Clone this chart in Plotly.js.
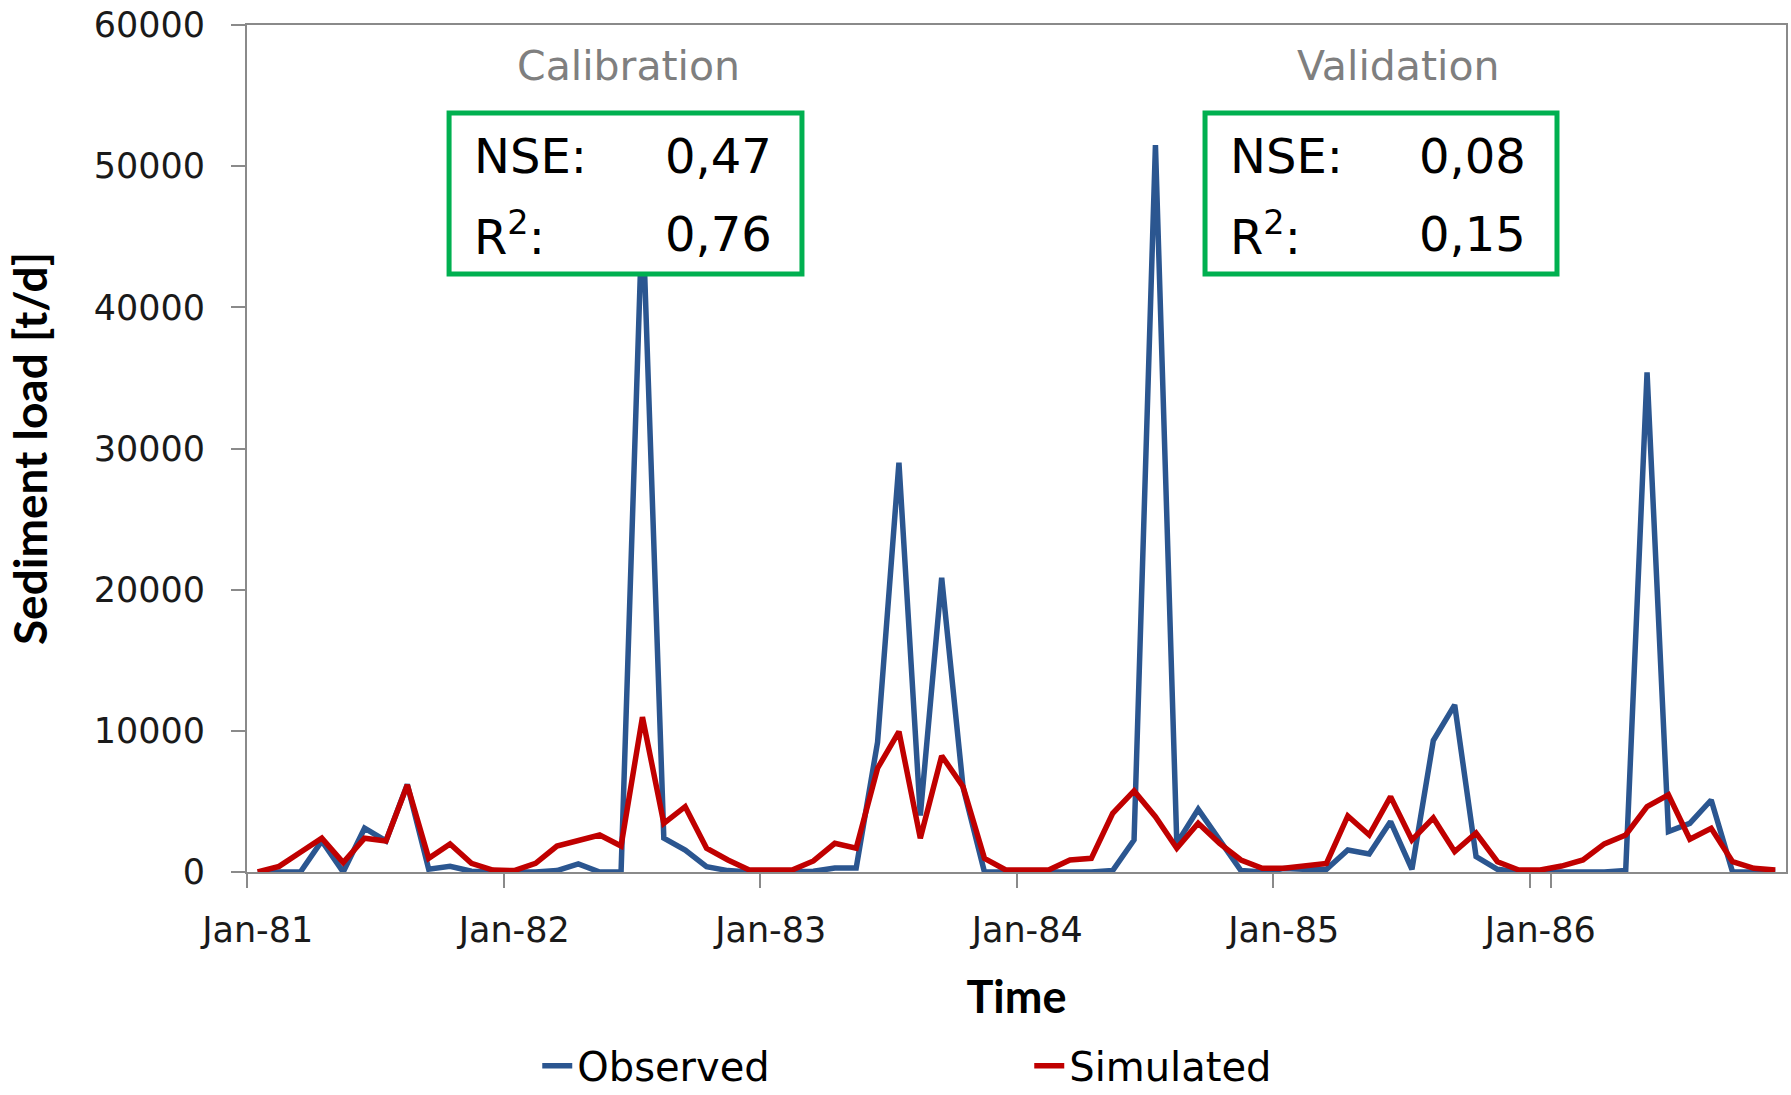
<!DOCTYPE html>
<html>
<head>
<meta charset="utf-8">
<script src="https://cdn.plot.ly/plotly-3.0.1.min.js"></script>
<style>
  html, body { margin: 0; padding: 0; background: #ffffff; overflow: hidden; }
  #chart { width: 1791px; height: 1125px; }
</style>
</head>
<body>
<div id="chart"></div>
<script>
// ---- data ----
const monthNames = ['Jan','Feb','Mar','Apr','May','Jun','Jul','Aug','Sep','Oct','Nov','Dec'];
const yearLabels = ['81','82','83','84','85','86'];
const categories = [];
yearLabels.forEach(y => monthNames.forEach(m => categories.push(m + '-' + y)));

const tickLabels = ['Jan-81','Jan-82','Jan-83','Jan-84','Jan-85','Jan-86'];

const observed = [
  0, 0, 0, 2200, 0, 3100, 2200, 6200, 200, 400, 50, 0,
  0, 0, 100, 570, 0, 0, 47000, 2400, 1560, 380, 100, 0,
  0, 0, 50, 280, 280, 9200, 29000, 4000, 20850, 6000, 0, 0,
  0, 0, 0, 0, 100, 2270, 51500, 2030, 4440, 2270, 100, 0,
  240, 190, 190, 1560, 1280, 3570, 190, 9310, 11840, 1090, 190, 0,
  0, 0, 0, 0, 100, 35400, 2860, 3450, 5100, 0, 0, 0
];

const simulated = [
  0, 400, 1400, 2400, 660, 2390, 2200, 6170, 970, 1985, 610, 140,
  100, 615, 1840, 2200, 2620, 1840, 10970, 3450, 4630, 1680, 850, 140,
  140, 140, 780, 2030, 1680, 7350, 9950, 2390, 8230, 6050, 970, 140,
  140, 140, 850, 970, 4160, 5740, 3920, 1680, 3450, 2030, 850, 260,
  260, 400, 610, 3970, 2620, 5340, 2270, 3830, 1440, 2760, 730, 140,
  140, 420, 850, 1990, 2620, 4630, 5460, 2320, 3100, 730, 260, 140
];

const periodNames = ['Calibration', 'Validation'];
const nseValues = ['0,47', '0,08'];
const r2Values = ['0,76', '0,15'];

// ---- chart ----
const tickFont = { family: 'DejaVu Sans, Verdana, sans-serif', size: 35, color: '#1a1a1a' };
const axisGray = '#8a8a8a';

const traces = [
  { x: categories, y: observed, name: 'Observed', type: 'scatter', mode: 'lines',
    line: { color: '#2b5690', width: 5.5 } },
  { x: categories, y: simulated, name: 'Simulated', type: 'scatter', mode: 'lines',
    line: { color: '#c00000', width: 5.5 } }
];

// box geometry (paper coords)
const boxes = [
  { x0: 0.1313, x1: 0.3606, left: 0.1462, right: 0.3424, head: 0.2482 },
  { x0: 0.6225, x1: 0.8512, left: 0.6374, right: 0.8324, head: 0.7479 }
];
const shapes = [];
const annotations = [];
const boxFont = { family: 'DejaVu Sans, Verdana, sans-serif', size: 48, color: '#000000' };
boxes.forEach((b, k) => {
  shapes.push({ type: 'rect', xref: 'paper', yref: 'paper', layer: 'above',
    x0: b.x0, x1: b.x1, y0: 0.706, y1: 0.896,
    line: { color: '#00b050', width: 5 }, fillcolor: '#ffffff' });
  annotations.push({ xref: 'paper', yref: 'paper', x: b.head, y: 0.9516, showarrow: false,
    xanchor: 'center', yanchor: 'middle', text: periodNames[k],
    font: { family: 'DejaVu Sans, Verdana, sans-serif', size: 41, color: '#7f7f7f' } });
  annotations.push({ xref: 'paper', yref: 'paper', x: b.left, y: 0.8453, showarrow: false,
    xanchor: 'left', yanchor: 'middle', text: 'NSE:', font: boxFont });
  annotations.push({ xref: 'paper', yref: 'paper', x: b.right, y: 0.8453, showarrow: false,
    xanchor: 'right', yanchor: 'middle', text: nseValues[k], font: boxFont });
  annotations.push({ xref: 'paper', yref: 'paper', x: b.left, y: 0.7532, showarrow: false,
    xanchor: 'left', yanchor: 'middle', text: 'R<sup>2</sup>:', font: boxFont });
  annotations.push({ xref: 'paper', yref: 'paper', x: b.right, y: 0.7532, showarrow: false,
    xanchor: 'right', yanchor: 'middle', text: r2Values[k], font: boxFont });
});

const layout = {
  width: 1791, height: 1125,
  margin: { l: 247, r: 5, t: 25, b: 253 },
  paper_bgcolor: '#ffffff', plot_bgcolor: '#ffffff',
  showlegend: true,
  legend: {
    orientation: 'h', xref: 'paper', yref: 'paper',
    x: 0.1886, y: -0.1905, xanchor: 'left', yanchor: 'top',
    font: { family: 'DejaVu Sans, Verdana, sans-serif', size: 40, color: '#000000' },
    entrywidth: 447, entrywidthmode: 'pixels',
    bgcolor: 'rgba(0,0,0,0)', borderwidth: 0
  },
  xaxis: {
    type: 'category',
    categoryorder: 'array', categoryarray: categories,
    range: [-0.5, 71.5],
    tickmode: 'array', tickvals: tickLabels, ticktext: tickLabels,
    tickson: 'boundaries', tickangle: 0,
    ticks: 'outside', ticklen: 14, tickwidth: 2, tickcolor: axisGray,
    ticklabelstandoff: 26,
    tickfont: tickFont,
    showline: true, linecolor: axisGray, linewidth: 2, mirror: true,
    showgrid: false, zeroline: false,
    title: { text: 'Time', standoff: 32,
      font: { family: 'Lato, Calibri, sans-serif', size: 45, color: '#000000', weight: 'bold' } }
  },
  yaxis: {
    range: [0, 60000], dtick: 10000, tick0: 0, tickformat: 'd',
    ticks: 'outside', ticklen: 14, tickwidth: 2, tickcolor: axisGray,
    ticklabelstandoff: 19,
    tickfont: tickFont,
    showline: true, linecolor: axisGray, linewidth: 2, mirror: true,
    showgrid: false, zeroline: false,
    title: { text: 'Sediment load [t/d]', standoff: 32,
      font: { family: 'Lato, Calibri, sans-serif', size: 46, color: '#000000', weight: 'bold' } }
  },
  shapes: shapes,
  annotations: annotations
};

Plotly.newPlot('chart', traces, layout, { displayModeBar: false, staticPlot: true });
</script>
</body>
</html>
